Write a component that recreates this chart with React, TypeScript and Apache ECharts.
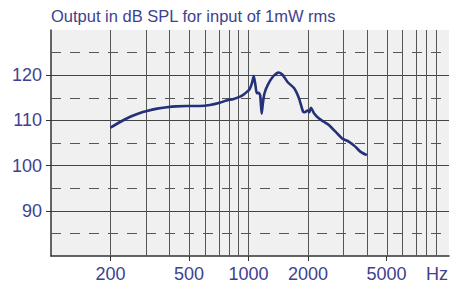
import React, { useEffect, useRef } from "react";
import * as echarts from "echarts";

const titleText = "Output in dB SPL for input of 1mW rms";
const gridFreqs = [200, 300, 400, 500, 600, 700, 800, 900, 1000, 2000, 3000, 4000, 5000, 6000, 7000, 8000, 9000];
const dashedLevels = [85, 95, 105, 115, 125];
const labelFreqs = [200, 500, 1000, 2000, 5000, 9000];
const labelTexts = ["200", "500", "1000", "2000", "5000", "Hz"];
const tickFreqs = [200, 500, 1000, 2000, 5000];
const yTicks = [90, 100, 110, 120];
const freqs = [200, 225, 252, 280, 306, 345, 386, 430, 486, 567, 637, 715, 773, 834, 900, 936, 974, 1012, 1040, 1063, 1084, 1101, 1123, 1145, 1166, 1180, 1203, 1250, 1325, 1420, 1487, 1576, 1703, 1804, 1889, 1930, 1987, 2030, 2070, 2145, 2274, 2408, 2552, 2757, 2978, 3215, 3472, 3679, 3974];
const spl = [108.4, 109.7, 110.8, 111.6, 112.1, 112.6, 112.9, 113.1, 113.2, 113.2, 113.4, 113.9, 114.4, 114.7, 115.2, 115.6, 116.2, 116.9, 118.2, 119.8, 117.8, 116.0, 116.1, 115.6, 111.5, 113.5, 115.9, 117.8, 119.6, 120.6, 120.1, 118.5, 117.1, 114.8, 111.9, 111.8, 112.2, 111.8, 112.8, 111.6, 110.4, 109.7, 109.0, 107.5, 106.0, 105.3, 104.2, 103.1, 102.3];

const textColor = "#3d4290";
const font = "Liberation Sans";

export default function App() {
  const ref = useRef<HTMLDivElement>(null);
  useEffect(() => {
    document.body.style.margin = "0";
    const chart = echarts.init(ref.current!, null, { renderer: "svg" });
    const lg = (f: number) => Math.log10(f);
    const markData: any[] = [];
    gridFreqs.forEach((f) =>
      markData.push({ xAxis: lg(f), lineStyle: { color: "#555", width: 1, type: "solid" } })
    );
    dashedLevels.forEach((v) =>
      markData.push({ yAxis: v, lineStyle: { color: "#555", width: 1, type: [10, 9] } })
    );
    chart.setOption({
      animation: false,
      backgroundColor: "#ffffff",
      title: {
        text: titleText,
        left: 51,
        top: 7,
        padding: 0,
        textStyle: { color: textColor, fontFamily: font, fontSize: 16.5, fontWeight: "normal" },
      },
      grid: {
        left: 51,
        right: 0,
        top: 30,
        bottom: 28,
        show: true,
        backgroundColor: "#f0f0f0",
        borderWidth: 0,
      },
      xAxis: {
        type: "value",
        min: 2,
        max: 4.015,
        axisLine: { show: true, lineStyle: { color: "#333", width: 1.5 } },
        axisTick: {
          show: true,
          customValues: tickFreqs.map(lg),
          length: 5,
          lineStyle: { color: "#333" },
        },
        splitLine: { show: false },
        axisLabel: {
          customValues: labelFreqs.map(lg),
          formatter: (v: number) => {
            const idx = labelFreqs.findIndex((f) => Math.abs(lg(f) - v) < 1e-6);
            return idx >= 0 ? labelTexts[idx] : "";
          },
          color: textColor,
          fontFamily: font,
          fontSize: 18,
          margin: 9,
        },
      },
      yAxis: {
        type: "value",
        min: 80,
        max: 130,
        interval: 10,
        axisLine: { show: true, lineStyle: { color: "#333", width: 1.5 } },
        axisTick: { show: true, customValues: yTicks, length: 5, lineStyle: { color: "#333" } },
        splitLine: { show: true, lineStyle: { color: "#444", width: 1 } },
        axisLabel: {
          showMinLabel: false,
          showMaxLabel: false,
          color: textColor,
          fontFamily: font,
          fontSize: 18,
          margin: 9,
        },
      },
      series: [
        {
          type: "line",
          data: freqs.map((f, i) => [lg(f), spl[i]]),
          symbol: "none",
          smooth: 0.2,
          lineStyle: { color: "#24307a", width: 2.6 },
          markLine: {
            silent: true,
            symbol: "none",
            label: { show: false },
            data: markData,
          },
          z: 5,
        },
      ],
    });
    return () => chart.dispose();
  }, []);
  return <div ref={ref} style={{ width: 451, height: 284 }} />;
}
